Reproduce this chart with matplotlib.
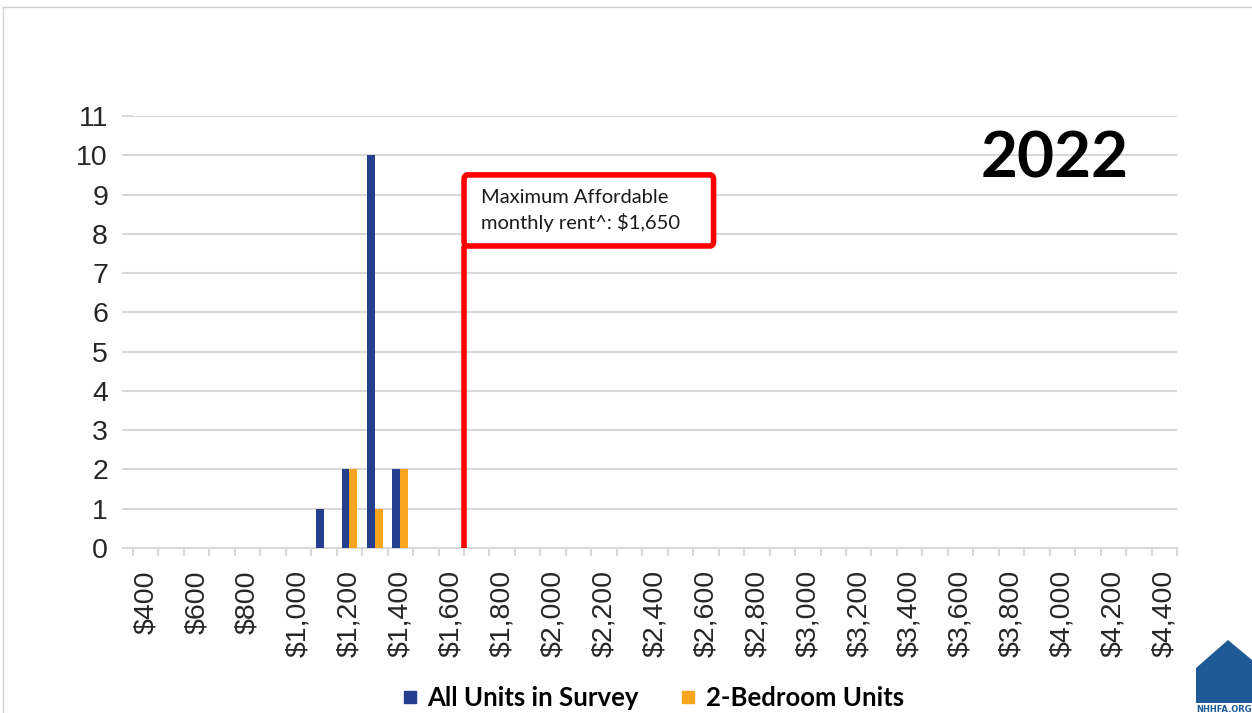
import matplotlib
matplotlib.use("Agg")
import matplotlib.pyplot as plt
from matplotlib.patches import FancyBboxPatch, Polygon
from matplotlib.lines import Line2D

# rent bins ($100 steps, labels on every other bin)
rent_bins = list(range(400, 4500, 100))
all_units = [0, 0, 0, 0, 0, 0, 0, 1, 2, 10, 2, 0, 0, 0, 0, 0, 0, 0, 0, 0, 0,
             0, 0, 0, 0, 0, 0, 0, 0, 0, 0, 0, 0, 0, 0, 0, 0, 0, 0, 0, 0]
two_bedroom = [0, 0, 0, 0, 0, 0, 0, 0, 2, 1, 2, 0, 0, 0, 0, 0, 0, 0, 0, 0, 0,
               0, 0, 0, 0, 0, 0, 0, 0, 0, 0, 0, 0, 0, 0, 0, 0, 0, 0, 0, 0]
tick_values = list(range(400, 4500, 200))
tick_labels = ['${:,}'.format(v) for v in tick_values]
max_rent = 1650
max_label = 'Maximum Affordable\nmonthly rent^: $1,650'
year = '2022'

blue = '#253f8e'
orange = '#f9a51f'
red = '#ff0000'
grid_col = '#d9d9d9'
text_col = '#262626'

fig = plt.figure(figsize=(12.52, 7.13), dpi=100)
ax = fig.add_axes([133 / 1252, 1 - 548 / 713, 1044 / 1252, 432 / 713])

# blue bar sits left of the bin center, orange right of it
ax.bar([b - 31 for b in rent_bins], all_units, width=31, align='edge', color=blue, zorder=3)
ax.bar(rent_bins, two_bedroom, width=31, align='edge', color=orange, zorder=3)

ax.set_xlim(350, 4450)
ax.set_ylim(0, 11)
ax.set_yticks(range(0, 12))
ax.set_xticks(tick_values)
ax.set_xticklabels(tick_labels, rotation=90, va='top', ha='center')
ax.set_xticks([b - 50 for b in rent_bins] + [4450], minor=True)

for s in ['top', 'right', 'left']:
    ax.spines[s].set_visible(False)
ax.spines['bottom'].set_color(grid_col)
ax.spines['bottom'].set_linewidth(1.5)
ax.grid(axis='y', color=grid_col, linewidth=1.5, zorder=0)
ax.tick_params(axis='y', length=8, width=1.5, color=grid_col, pad=10,
               labelsize=20.5, labelcolor=text_col)
ax.tick_params(axis='x', which='major', length=0, pad=16, labelsize=20.5, labelcolor=text_col)
ax.tick_params(axis='x', which='minor', length=6, width=1.5, color=grid_col)
for lab in ax.get_xticklabels() + ax.get_yticklabels():
    lab.set_fontfamily('Liberation Sans')

# max affordable rent marker
box_bottom, box_top = 7.69, 9.50
ax.plot([max_rent, max_rent], [0, box_bottom], color=red, linewidth=4, zorder=4,
        solid_capstyle='butt')
box = FancyBboxPatch((max_rent, box_bottom), 980, box_top - box_bottom,
                     boxstyle='round,pad=0,rounding_size=15', facecolor='white',
                     edgecolor=red, linewidth=4, zorder=5, mutation_aspect=0.008)
ax.add_patch(box)
ax.text(max_rent + 65, (box_bottom + box_top) / 2, max_label, fontsize=14.5,
        family='Lato', color='#1a1a1a', va='center', ha='left', linespacing=1.45, zorder=6)

fig.text(1055 / 1252, 1 - 159 / 713, year, fontsize=46, fontweight='bold',
         family='Lato', ha='center', va='center', color='black')

handles = [Line2D([], [], marker='s', linestyle='none', markersize=9, color=blue,
                  label='All Units in Survey'),
           Line2D([], [], marker='s', linestyle='none', markersize=9, color=orange,
                  label='2-Bedroom Units')]
fig.legend(handles=handles, loc='center', bbox_to_anchor=(653 / 1252, 1 - 698 / 713),
           ncol=2, frameon=False, handlelength=0.6, handletextpad=0.4,
           columnspacing=1.6, prop={'family': 'Lato', 'weight': 'bold', 'size': 18.5})

# slide border and logo
fig.add_artist(Line2D([3 / 1252, 1], [1 - 7 / 713, 1 - 7 / 713], color='#d0d0d0', lw=1))
fig.add_artist(Line2D([3 / 1252, 3 / 1252], [0, 1 - 7 / 713], color='#d0d0d0', lw=1))
house = [(1196, 703), (1196, 668), (1228, 640), (1252, 660), (1252, 703)]
fig.add_artist(Polygon([(x / 1252, 1 - y / 713) for x, y in house], closed=True,
                       facecolor='#1f5a96', edgecolor='none'))
fig.text(1196 / 1252, 1 - 710 / 713, 'NHHFA.ORG', fontsize=6, color='#1f5a96',
         fontweight='bold', ha='left', va='center')

fig.savefig('out.png', dpi=100)
